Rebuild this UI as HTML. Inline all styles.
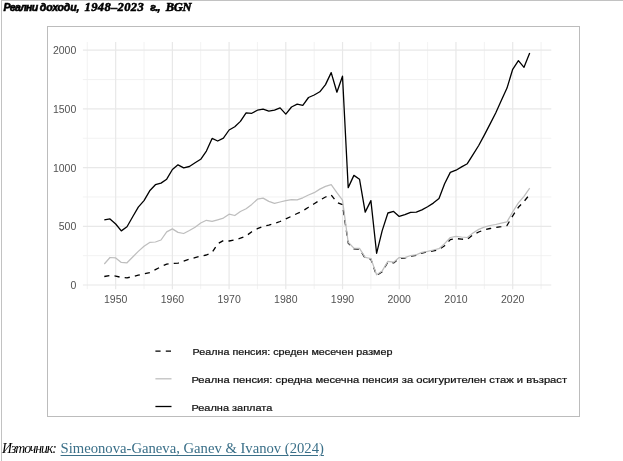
<!DOCTYPE html>
<html lang="bg"><head><meta charset="utf-8"><title>Реални доходи</title>
<style>
html,body{margin:0;padding:0;background:#fff;}
body{width:623px;height:461px;position:relative;overflow:hidden;font-family:"Liberation Serif",serif;}
.bt{position:absolute;left:1px;top:0;width:622px;height:1px;background:#c2c2c2;}
.bl{position:absolute;left:1px;top:0;width:1px;height:461px;background:#c2c2c2;}
.title{position:absolute;left:0;top:0;width:300px;height:14px;font:italic bold 12px/14px "Liberation Serif",serif;color:#000;white-space:nowrap;}
.title span{position:absolute;top:0;}
.title .cy{font-family:"Liberation Sans",sans-serif;font-size:10.5px;top:-0.2px;-webkit-text-stroke:0.6px #000;}
.title .la{top:0px;font-size:12.5px;-webkit-text-stroke:0.55px #000;}
#t1{letter-spacing:-0.7px}#t2{letter-spacing:-0.15px}#t3{letter-spacing:0.35px}#t4{letter-spacing:-0.5px}#t5{letter-spacing:-0.3px}
.frame{position:absolute;left:47px;top:26px;width:531px;height:389px;border:1px solid #bcbcbc;box-sizing:content-box;}
svg{position:absolute;left:0;top:0;}
svg text{font-family:"Liberation Sans",sans-serif;font-size:10.5px;fill:#525252;}
svg text.lg{fill:#111;font-size:9.3px;stroke:#111;stroke-width:0.22px;}
.src{position:absolute;left:2.0px;top:440.4px;white-space:nowrap;font:14.67px/17px "Liberation Serif",serif;color:#000;}
.src i{font-size:13.8px;letter-spacing:-1.05px;display:inline-block;width:54.9px;}
.src a{color:#3a6f88;text-decoration:underline;text-decoration-thickness:1.2px;text-underline-offset:2.3px;}
</style></head><body>
<div class="bt"></div><div class="bl"></div>
<div class="title"><span class="cy" id="t1" style="left:3.5px">Реални</span> <span class="cy" id="t2" style="left:39.8px">доходи,</span> <span class="la" id="t3" style="left:84.6px">1948–2023</span> <span class="cy" id="t4" style="left:150.2px">г.,</span> <span class="la" id="t5" style="left:165.7px">BGN</span></div>
<div class="frame"></div>
<svg width="623" height="461" viewBox="0 0 623 461">
<g><line x1="82.9" x2="551.3" y1="255.65" y2="255.65" stroke="#f0f0f0" stroke-width="0.9"/><line x1="82.9" x2="551.3" y1="196.95" y2="196.95" stroke="#f0f0f0" stroke-width="0.9"/><line x1="82.9" x2="551.3" y1="138.25" y2="138.25" stroke="#f0f0f0" stroke-width="0.9"/><line x1="82.9" x2="551.3" y1="79.55" y2="79.55" stroke="#f0f0f0" stroke-width="0.9"/><line y1="42.0" y2="289.2" x1="87.29" x2="87.29" stroke="#f0f0f0" stroke-width="0.9"/><line y1="42.0" y2="289.2" x1="144.01" x2="144.01" stroke="#f0f0f0" stroke-width="0.9"/><line y1="42.0" y2="289.2" x1="200.73" x2="200.73" stroke="#f0f0f0" stroke-width="0.9"/><line y1="42.0" y2="289.2" x1="257.45" x2="257.45" stroke="#f0f0f0" stroke-width="0.9"/><line y1="42.0" y2="289.2" x1="314.17" x2="314.17" stroke="#f0f0f0" stroke-width="0.9"/><line y1="42.0" y2="289.2" x1="370.89" x2="370.89" stroke="#f0f0f0" stroke-width="0.9"/><line y1="42.0" y2="289.2" x1="427.61" x2="427.61" stroke="#f0f0f0" stroke-width="0.9"/><line y1="42.0" y2="289.2" x1="484.33" x2="484.33" stroke="#f0f0f0" stroke-width="0.9"/><line y1="42.0" y2="289.2" x1="541.05" x2="541.05" stroke="#f0f0f0" stroke-width="0.9"/><line x1="82.9" x2="551.3" y1="285.00" y2="285.00" stroke="#e8e8e8" stroke-width="1.2"/><line x1="82.9" x2="551.3" y1="226.30" y2="226.30" stroke="#e8e8e8" stroke-width="1.2"/><line x1="82.9" x2="551.3" y1="167.60" y2="167.60" stroke="#e8e8e8" stroke-width="1.2"/><line x1="82.9" x2="551.3" y1="108.90" y2="108.90" stroke="#e8e8e8" stroke-width="1.2"/><line x1="82.9" x2="551.3" y1="50.20" y2="50.20" stroke="#e8e8e8" stroke-width="1.2"/><line y1="42.0" y2="289.2" x1="115.65" x2="115.65" stroke="#e8e8e8" stroke-width="1.2"/><line y1="42.0" y2="289.2" x1="172.37" x2="172.37" stroke="#e8e8e8" stroke-width="1.2"/><line y1="42.0" y2="289.2" x1="229.09" x2="229.09" stroke="#e8e8e8" stroke-width="1.2"/><line y1="42.0" y2="289.2" x1="285.81" x2="285.81" stroke="#e8e8e8" stroke-width="1.2"/><line y1="42.0" y2="289.2" x1="342.53" x2="342.53" stroke="#e8e8e8" stroke-width="1.2"/><line y1="42.0" y2="289.2" x1="399.25" x2="399.25" stroke="#e8e8e8" stroke-width="1.2"/><line y1="42.0" y2="289.2" x1="455.97" x2="455.97" stroke="#e8e8e8" stroke-width="1.2"/><line y1="42.0" y2="289.2" x1="512.69" x2="512.69" stroke="#e8e8e8" stroke-width="1.2"/></g>
<g><text x="76.3" y="289.0" text-anchor="end">0</text><text x="76.3" y="230.3" text-anchor="end">500</text><text x="76.3" y="171.6" text-anchor="end">1000</text><text x="76.3" y="112.9" text-anchor="end">1500</text><text x="76.3" y="54.2" text-anchor="end">2000</text><text x="115.7" y="302.6" text-anchor="middle">1950</text><text x="172.4" y="302.6" text-anchor="middle">1960</text><text x="229.1" y="302.6" text-anchor="middle">1970</text><text x="285.8" y="302.6" text-anchor="middle">1980</text><text x="342.5" y="302.6" text-anchor="middle">1990</text><text x="399.2" y="302.6" text-anchor="middle">2000</text><text x="456.0" y="302.6" text-anchor="middle">2010</text><text x="512.7" y="302.6" text-anchor="middle">2020</text></g>
<polyline fill="none" stroke="#000" stroke-width="1.3" stroke-dasharray="5.17 5.17" stroke-linejoin="round" points="104.3,276.5 110.0,275.4 115.7,276.1 121.3,277.4 127.0,277.8 132.7,276.7 138.3,275.2 144.0,273.9 149.7,272.6 155.4,269.6 161.0,266.7 166.7,264.1 172.4,263.5 178.0,263.2 183.7,261.1 189.4,259.2 195.1,257.6 200.7,256.2 206.4,255.0 212.1,252.5 217.7,243.8 223.4,240.6 229.1,241.0 234.8,239.9 240.4,238.2 246.1,236.0 251.8,231.7 257.4,228.7 263.1,226.3 268.8,225.2 274.5,223.5 280.1,221.5 285.8,218.9 291.5,216.3 297.2,213.5 302.8,210.9 308.5,207.3 314.2,203.7 319.8,200.2 325.5,197.0 331.2,194.9 336.9,202.4 342.5,204.6 348.2,243.1 353.9,248.8 359.5,249.1 365.2,258.1 370.9,259.2 376.6,275.6 382.2,271.6 387.9,262.1 393.6,262.9 399.2,258.4 404.9,258.0 410.6,256.1 416.3,255.4 421.9,253.1 427.6,251.8 433.3,250.9 439.0,249.6 444.6,245.7 450.3,239.6 456.0,238.5 461.6,239.2 467.3,239.4 473.0,234.7 478.7,232.0 484.3,229.8 490.0,228.5 495.7,227.5 501.3,226.6 507.0,225.5 512.7,215.8 518.4,207.3 524.0,201.5 529.7,194.5"/>
<polyline fill="none" stroke="#bebebe" stroke-width="1.25" stroke-linejoin="round" points="104.3,264.0 110.0,257.5 115.7,257.9 121.3,262.4 127.0,262.8 132.7,257.0 138.3,251.4 144.0,246.3 149.7,242.4 155.4,242.0 161.0,240.0 166.7,231.9 172.4,228.9 178.0,232.4 183.7,233.5 189.4,230.5 195.1,227.2 200.7,223.0 206.4,220.3 212.1,221.4 217.7,219.8 223.4,218.1 229.1,214.2 234.8,215.5 240.4,211.5 246.1,208.7 251.8,204.4 257.4,199.2 263.1,198.1 268.8,201.4 274.5,203.3 280.1,202.0 285.8,200.7 291.5,199.7 297.2,199.9 302.8,197.8 308.5,195.0 314.2,192.7 319.8,189.1 325.5,186.4 331.2,184.6 336.9,192.7 342.5,200.1 348.2,242.3 353.9,248.1 359.5,248.3 365.2,257.4 370.9,258.5 376.6,274.8 382.2,270.9 387.9,261.4 393.6,262.2 399.2,257.6 404.9,257.6 410.6,255.5 416.3,254.8 421.9,252.4 427.6,251.3 433.3,250.0 439.0,248.7 444.6,243.7 450.3,237.5 456.0,236.3 461.6,237.0 467.3,237.5 473.0,233.0 478.7,229.4 484.3,227.1 490.0,225.5 495.7,224.5 501.3,223.2 507.0,221.9 512.7,211.9 518.4,202.8 524.0,196.3 529.7,188.1"/>
<polyline fill="none" stroke="#000" stroke-width="1.3" stroke-linejoin="round" points="104.3,219.8 110.0,218.9 115.7,224.0 121.3,230.9 127.0,226.8 132.7,216.8 138.3,207.1 144.0,200.6 149.7,190.8 155.4,184.7 161.0,183.1 166.7,179.2 172.4,169.5 178.0,164.8 183.7,167.8 189.4,166.5 195.1,162.8 200.7,159.3 206.4,151.1 212.1,138.4 217.7,141.0 223.4,138.1 229.1,130.0 234.8,126.7 240.4,121.4 246.1,112.8 251.8,113.3 257.4,110.2 263.1,109.2 268.8,111.1 274.5,110.1 280.1,107.9 285.8,114.1 291.5,107.0 297.2,104.2 302.8,105.3 308.5,97.5 314.2,95.0 319.8,91.8 325.5,84.6 331.2,72.6 336.9,92.2 342.5,76.2 348.2,187.6 353.9,175.4 359.5,179.2 365.2,212.1 370.9,200.6 376.6,253.3 382.2,230.6 387.9,213.0 393.6,211.4 399.2,216.4 404.9,214.7 410.6,212.3 416.3,212.1 421.9,209.9 427.6,206.8 433.3,203.1 439.0,198.5 444.6,183.8 450.3,172.4 456.0,170.2 461.6,166.9 467.3,163.7 473.0,154.6 478.7,145.5 484.3,135.1 490.0,124.1 495.7,113.0 501.3,100.4 507.0,88.1 512.7,69.3 518.4,60.6 524.0,67.3 529.7,53.0"/>
<line x1="155.4" x2="171.5" y1="351.1" y2="351.1" stroke="#000" stroke-width="1.3" stroke-dasharray="5.2 5.2"/>
<line x1="155.4" x2="171.5" y1="378.8" y2="378.8" stroke="#bebebe" stroke-width="1.25"/>
<line x1="155.4" x2="171.5" y1="406.5" y2="406.5" stroke="#000" stroke-width="1.3"/>
<text class="lg" x="192.6" y="354.8" textLength="199.8" lengthAdjust="spacingAndGlyphs">Реална пенсия: среден месечен размер</text>
<text class="lg" x="191.4" y="382.5" textLength="375.7" lengthAdjust="spacingAndGlyphs">Реална пенсия: средна месечна пенсия за осигурителен стаж и възраст</text>
<text class="lg" x="191.4" y="411" textLength="81" lengthAdjust="spacingAndGlyphs">Реална заплата</text>
</svg>
<div class="src"><i>Източник:</i> <a>Simeonova-Ganeva, Ganev &amp; Ivanov (2024)</a></div>
</body></html>
